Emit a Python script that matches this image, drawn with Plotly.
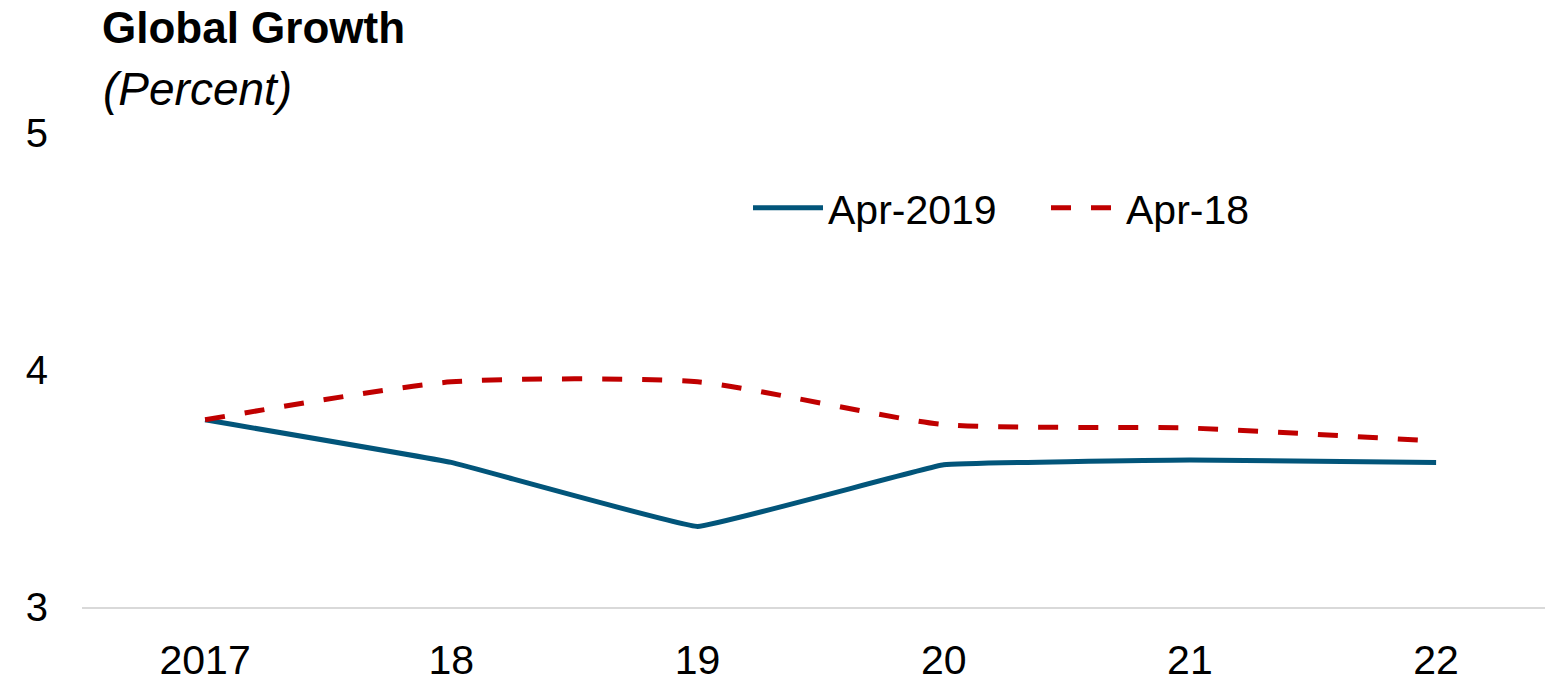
import plotly.graph_objects as go

categories = ["2017", "18", "19", "20", "21", "22"]
apr2019 = [3.79, 3.61, 3.34, 3.60, 3.62, 3.61]
apr2018 = [3.79, 3.95, 3.95, 3.77, 3.755, 3.70]
yticks = [3, 4, 5]

BLUE = "#02557a"
RED = "#c00000"
FONT = "Liberation Sans, Arial, sans-serif"

L, T, B = 82, 133, 607
W, H = 1545, 685
PW, PH = W - L, B - T
STEP = 246.2  # px per category in the reference

fig = go.Figure()
fig.add_trace(go.Scatter(
    x=categories, y=apr2019, name="Apr-2019", mode="lines",
    line=dict(color=BLUE, width=5, shape="spline", smoothing=0.2),
))
fig.add_trace(go.Scatter(
    x=categories, y=apr2018, name="Apr-18", mode="lines",
    line=dict(color=RED, width=5, dash="20px,20px", shape="spline", smoothing=0.6),
))

fig.update_layout(
    width=W, height=H,
    margin=dict(l=L, r=0, t=T, b=H - B, autoexpand=False),
    paper_bgcolor="white", plot_bgcolor="white",
    font=dict(family=FONT, color="black"),
    showlegend=True,
    legend=dict(
        orientation="h", x=(748 - L) / PW, y=(B - 208) / PH, xanchor="left", yanchor="middle",
        font=dict(size=41, family=FONT, color="black"),
        itemwidth=70, entrywidth=213, bgcolor="rgba(0,0,0,0)",
    ),
    annotations=[
        dict(text="<b>Global Growth</b>", xref="paper", yref="paper",
             x=(100 - L) / PW, y=(B - 28) / PH, xanchor="left", yanchor="middle",
             showarrow=False, font=dict(size=44, family=FONT, color="black")),
        dict(text="<i>(Percent)</i>", xref="paper", yref="paper",
             x=(101 - L) / PW, y=(B - 89) / PH, xanchor="left", yanchor="middle",
             showarrow=False, font=dict(size=46, family=FONT, color="black")),
    ],
)
fig.update_xaxes(
    type="category", range=[-0.5, -0.5 + PW / STEP], showgrid=False, showline=True,
    linecolor="#d9d9d9", linewidth=1.5, automargin=False,
    ticks="", tickfont=dict(size=41, family=FONT, color="black"), ticklabelstandoff=16,
    zeroline=False,
)
fig.update_yaxes(
    range=[3, 5], tickvals=yticks, ticktext=[str(v) for v in yticks], automargin=False,
    showgrid=False, showline=False, zeroline=False, ticks="",
    tickfont=dict(size=40, family=FONT, color="black"), ticklabelstandoff=33,
)

fig.write_html(
    "out.html",
    config={"displayModeBar": False},
    post_script="document.body.style.margin='0px';document.body.style.overflow='hidden';",
)
